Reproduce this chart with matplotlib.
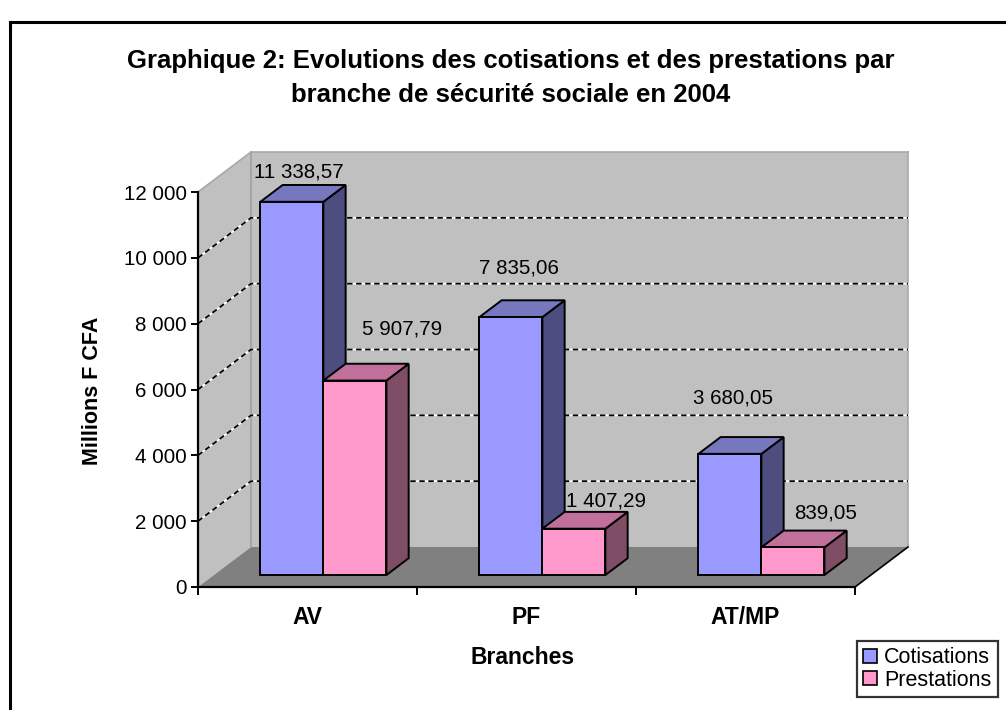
import matplotlib
matplotlib.use("Agg")
import matplotlib.pyplot as plt
from matplotlib.patches import Polygon, Patch
from matplotlib import font_manager
from matplotlib.lines import Line2D

# ---------------- data ----------------
categories = ["AV", "PF", "AT/MP"]
series_names = ["Cotisations", "Prestations"]
cotisations = [11338.57, 7835.06, 3680.05]
prestations = [5907.79, 1407.29, 839.05]
y_ticks = [0, 2000, 4000, 6000, 8000, 10000, 12000]
title_text = "Graphique 2: Evolutions des cotisations et des prestations par\nbranche de sécurité sociale en 2004"
x_title = "Branches"
y_title = "Millions F CFA"

# ---------------- style ----------------
W, H = 1006, 710
avail = {f.name for f in font_manager.fontManager.ttflist}
base_font = "Liberation Sans" if "Liberation Sans" in avail else "DejaVu Sans"
narrow_font = "Liberation Sans Narrow" if "Liberation Sans Narrow" in avail else base_font
plt.rcParams["font.family"] = [base_font, "DejaVu Sans"]

front = {"Cotisations": "#9999FF", "Prestations": "#FF99CC"}
topc = {"Cotisations": "#7777C0", "Prestations": "#C0709A"}
sidec = {"Cotisations": "#4D4D80", "Prestations": "#804D66"}

DX = 0.242     # depth shift in category units
DY = 1215.0    # depth shift in value units
F0, F1 = 0.30, 0.72   # bar front/back depth fractions
BAR_W = 0.2877
# label offsets in pixels (dx, dy) relative to bar front-top center
lab_off = [[(7, 30), (47, 52)], [(8, 49), (32, 28)], [(3, 56), (33, 34)]]

fig = plt.figure(figsize=(W / 100, H / 100), dpi=100)
fig.patch.set_facecolor("white")

def fx(px):
    return px / W

def fy(py):
    return 1 - py / H

ax = fig.add_axes([fx(198), fy(587), fx(855) - fx(198), fy(192) - fy(587)])
ax.set_xlim(0, 3)
ax.set_ylim(0, 12000)
ax.patch.set_visible(False)
for s in ["top", "right"]:
    ax.spines[s].set_visible(False)
for s in ["left", "bottom"]:
    ax.spines[s].set_color("black")
    ax.spines[s].set_linewidth(1.6)
    ax.spines[s].set_zorder(20)

ymax = y_ticks[-1]
ncat = len(categories)

# walls & floor
side_wall = Polygon([(0, 0), (DX, DY), (DX, ymax + DY), (0, ymax)], closed=True,
                    facecolor="#C0C0C0", edgecolor="none", clip_on=False, zorder=1)
back_wall = Polygon([(DX, DY), (ncat + DX, DY), (ncat + DX, ymax + DY), (DX, ymax + DY)],
                    closed=True, facecolor="#C0C0C0", edgecolor="none", clip_on=False, zorder=1)
floor = Polygon([(0, 0), (ncat, 0), (ncat + DX, DY), (DX, DY)], closed=True,
                facecolor="#808080", edgecolor="none", clip_on=False, zorder=2)
for p in (side_wall, back_wall, floor):
    ax.add_patch(p)
# wall edges
ax.plot([DX, DX], [DY, ymax + DY], color="#A0A0A0", lw=1.2, clip_on=False, zorder=2)
ax.plot([0, DX, ncat + DX], [ymax, ymax + DY, ymax + DY], color="#A8A8A8", lw=1.2, clip_on=False, zorder=2)
ax.plot([ncat + DX, ncat + DX], [DY, ymax + DY], color="#A8A8A8", lw=1.2, clip_on=False, zorder=2)
ax.plot([ncat, ncat + DX], [0, DY], color="black", lw=1.2, clip_on=False, zorder=3)

# gridlines
for v in y_ticks[1:-1]:
    xs = [0, DX, ncat + DX]
    ys = [v, v + DY, v + DY]
    ax.plot(xs, ys, color="white", lw=1.3, clip_on=False, zorder=3)
    ax.plot(xs, ys, color="black", lw=1.3, ls=(0, (3, 2)), clip_on=False, zorder=3)

# bars
z = 10
for c in range(ncat):
    for s, name in enumerate(series_names):
        v = (cotisations if s == 0 else prestations)[c]
        x0 = c + 0.5 - BAR_W + s * BAR_W + F0 * DX
        x1 = x0 + BAR_W
        y0 = F0 * DY
        y1 = y0 + v
        ddx = (F1 - F0) * DX
        ddy = (F1 - F0) * DY
        side = Polygon([(x1, y0), (x1 + ddx, y0 + ddy), (x1 + ddx, y1 + ddy), (x1, y1)],
                       closed=True, facecolor=sidec[name], edgecolor="black", lw=1.4,
                       joinstyle="miter", clip_on=False, zorder=z)
        top = Polygon([(x0, y1), (x0 + ddx, y1 + ddy), (x1 + ddx, y1 + ddy), (x1, y1)],
                      closed=True, facecolor=topc[name], edgecolor="black", lw=1.4,
                      joinstyle="miter", clip_on=False, zorder=z)
        fr = Polygon([(x0, y0), (x1, y0), (x1, y1), (x0, y1)], closed=True,
                     facecolor=front[name], edgecolor="black", lw=1.4,
                     joinstyle="miter", clip_on=False, zorder=z + 0.5)
        ax.add_patch(side)
        ax.add_patch(top)
        ax.add_patch(fr)
        z += 1
        lbl = f"{v:,.2f}".replace(",", " ").replace(".", ",")
        odx, ody = lab_off[c][s]
        ax.annotate(lbl, xy=((x0 + x1) / 2, y1), xytext=(odx, ody),
                    textcoords="offset pixels", ha="center", va="center",
                    fontsize=14.8, color="black", zorder=40, annotation_clip=False)

# ticks
ax.set_yticks(y_ticks)
ax.set_yticklabels([f"{t:,.0f}".replace(",", " ") for t in y_ticks], fontsize=14.8)
ax.tick_params(axis="y", direction="out", length=5, width=1.4, pad=3)
ax.set_xticks(range(ncat + 1))
ax.set_xticklabels([])
ax.tick_params(axis="x", direction="out", length=6, width=1.4)
ax.set_xticks([c + 0.5 for c in range(ncat)], minor=True)
ax.set_xticklabels(categories, minor=True, fontsize=16.5, fontweight="bold")
ax.tick_params(axis="x", which="minor", length=0, pad=14)

# axis titles
fig.text(fx(523), fy(657), x_title, ha="center", va="center", fontsize=16.5, fontweight="bold")
fig.text(fx(92), fy(391), y_title, ha="center", va="center", rotation=90,
         fontsize=15.5, fontweight="bold")

# title
fig.text(fx(511), fy(78), title_text, ha="center", va="center", fontsize=18.5,
         fontweight="bold", family=[narrow_font, "DejaVu Sans"], linespacing=1.55)

# legend
handles = [Patch(facecolor=front[n], edgecolor="black", lw=1.2) for n in series_names]
leg = fig.legend(handles, series_names, loc="upper left",
                 bbox_to_anchor=(fx(857), fy(641)), fontsize=15.5, frameon=True,
                 fancybox=False, borderpad=0.3, handlelength=0.65, handleheight=0.65,
                 handletextpad=0.3, labelspacing=0.05, borderaxespad=0)
leg.get_frame().set_edgecolor("black")
leg.get_frame().set_linewidth(1.6)

# outer chart border (cropped on right/bottom)
fig.add_artist(Line2D([fx(10), fx(10)], [fy(22), 0], color="black", lw=2.2))
fig.add_artist(Line2D([fx(10), 1], [fy(22), fy(22)], color="black", lw=2.2))

fig.savefig("out.png", dpi=100)
